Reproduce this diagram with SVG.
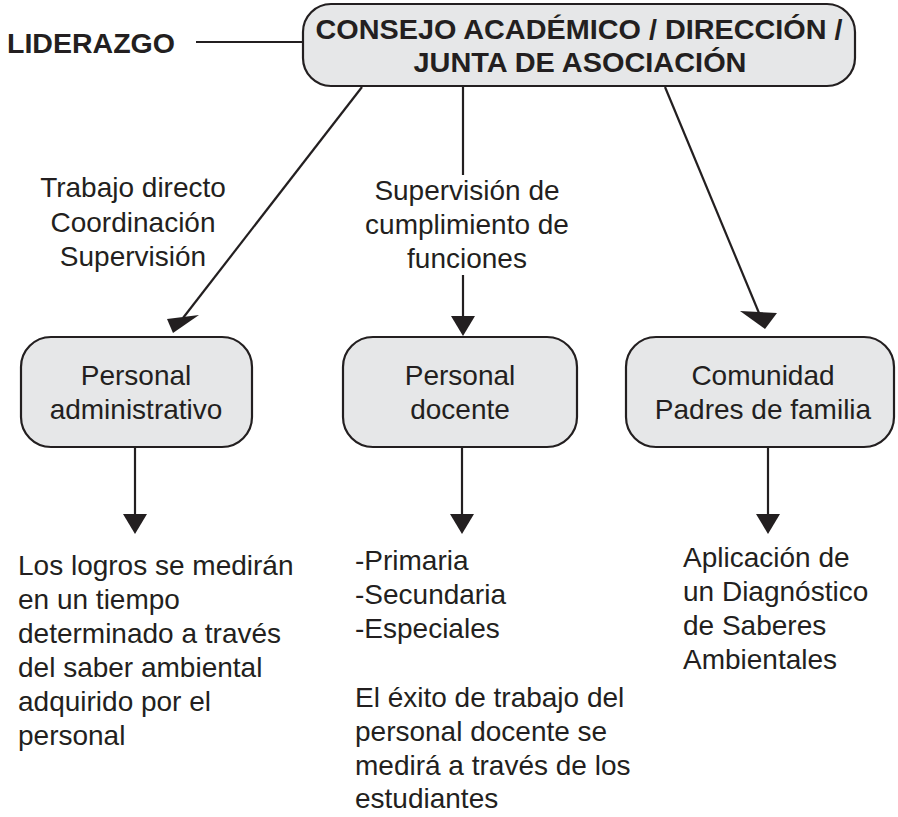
<svg xmlns="http://www.w3.org/2000/svg" width="898" height="817" viewBox="0 0 898 817">
<style>
.box{fill:#e6e7e8;stroke:#231f20;stroke-width:2.2}
.ln{stroke:#231f20;stroke-width:2.2;fill:none}
.ah{fill:#231f20}
.t{font-family:"Liberation Sans",Arial,sans-serif;font-size:28px;fill:#231f20}
.c{text-anchor:middle}
.b{font-family:"Liberation Sans",Arial,sans-serif;font-weight:bold;fill:#231f20}
</style>
<rect width="898" height="817" fill="#ffffff"/>
<g id="liderazgo">
<text class="b" x="7" y="53" font-size="27" textLength="168" lengthAdjust="spacingAndGlyphs">LIDERAZGO</text>
</g>
<g id="consejo">
<rect class="box" x="303" y="4" width="552" height="82" rx="28"/>
<text class="b c" x="579" y="39" font-size="27" textLength="527" lengthAdjust="spacingAndGlyphs">CONSEJO ACADÉMICO / DIRECCIÓN /</text>
<text class="b c" x="580" y="72" font-size="27" textLength="333" lengthAdjust="spacingAndGlyphs">JUNTA DE ASOCIACIÓN</text>
</g>
<g id="lbl-left">
<text class="t c" x="133" y="197">Trabajo directo</text>
<text class="t c" x="133" y="232">Coordinación</text>
<text class="t c" x="133" y="266">Supervisión</text>
</g>
<g id="lbl-mid">
<text class="t c" x="467" y="200">Supervisión de</text>
<text class="t c" x="467" y="234">cumplimiento de</text>
<text class="t c" x="467" y="268">funciones</text>
</g>
<g id="administrativo">
<rect class="box" x="21" y="337" width="231" height="110" rx="30"/>
<text class="t c" x="136" y="385">Personal</text>
<text class="t c" x="136" y="419">administrativo</text>
</g>
<g id="docente">
<rect class="box" x="343" y="337" width="234" height="110" rx="30"/>
<text class="t c" x="460" y="385">Personal</text>
<text class="t c" x="460" y="419">docente</text>
</g>
<g id="comunidad">
<rect class="box" x="626" y="337" width="268" height="110" rx="30"/>
<text class="t c" x="763" y="385">Comunidad</text>
<text class="t c" x="763" y="419">Padres de familia</text>
</g>
<g id="txt-left">
<text class="t" x="18" y="575">Los logros se medirán</text>
<text class="t" x="18" y="609">en un tiempo</text>
<text class="t" x="18" y="643">determinado a través</text>
<text class="t" x="18" y="677">del saber ambiental</text>
<text class="t" x="18" y="711">adquirido por el</text>
<text class="t" x="18" y="745">personal</text>
</g>
<g id="txt-mid">
<text class="t" x="355" y="570">-Primaria</text>
<text class="t" x="355" y="604">-Secundaria</text>
<text class="t" x="355" y="638">-Especiales</text>
<text class="t" x="355" y="707">El éxito de trabajo del</text>
<text class="t" x="355" y="741">personal docente se</text>
<text class="t" x="355" y="775">medirá a través de los</text>
<text class="t" x="355" y="808">estudiantes</text>
</g>
<g id="txt-right">
<text class="t" x="683" y="567">Aplicación de</text>
<text class="t" x="683" y="601">un Diagnóstico</text>
<text class="t" x="683" y="635">de Saberes</text>
<text class="t" x="683" y="669">Ambientales</text>
</g>
<g id="connectors">
<line class="ln" x1="196" y1="42" x2="303" y2="42"/>
<line class="ln" x1="362" y1="87" x2="183" y2="318"/>
<polygon class="ah" points="167,319 199,315 173,333"/>
<line class="ln" x1="463" y1="87" x2="463" y2="175"/>
<line class="ln" x1="463" y1="275" x2="463" y2="318"/>
<polygon class="ah" points="451,316 475,316 463,336"/>
<line class="ln" x1="665" y1="87" x2="759" y2="313"/>
<polygon class="ah" points="740,311 777,313 765,329"/>
<line class="ln" x1="135" y1="447" x2="135" y2="516"/>
<polygon class="ah" points="123,514 147,514 135,534"/>
<line class="ln" x1="462" y1="447" x2="462" y2="516"/>
<polygon class="ah" points="450,514 474,514 462,534"/>
<line class="ln" x1="768" y1="447" x2="768" y2="516"/>
<polygon class="ah" points="756,514 780,514 768,534"/>
</g>
</svg>
